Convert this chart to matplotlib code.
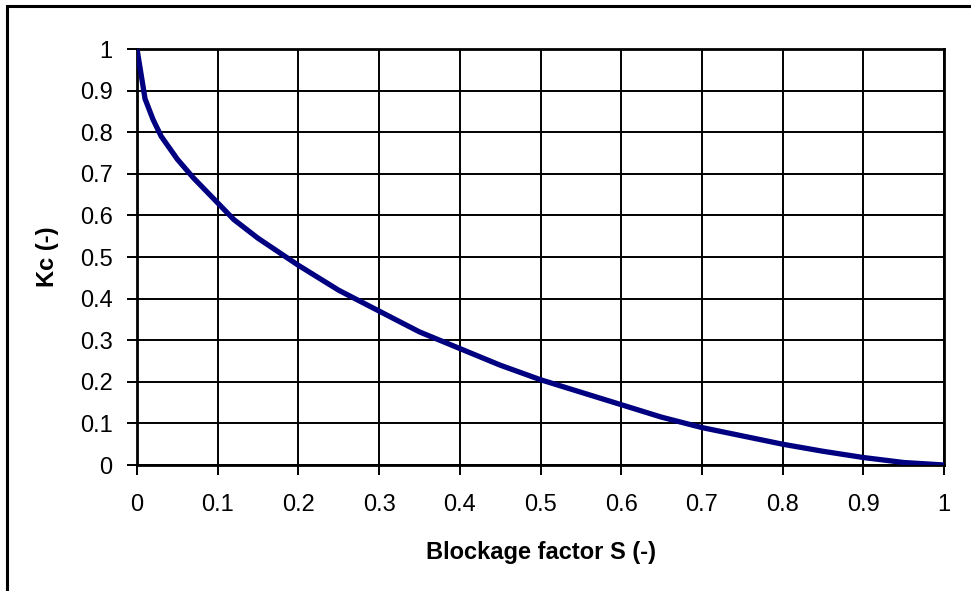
import matplotlib.pyplot as plt
from matplotlib.patches import Rectangle

plt.rcParams['font.family'] = ['Liberation Sans', 'DejaVu Sans']

# blockage factor S and correction factor Kc
s_vals = [0.0, 0.005, 0.01, 0.02, 0.03, 0.05, 0.07, 0.1, 0.12, 0.15, 0.2,
          0.25, 0.3, 0.35, 0.4, 0.45, 0.5, 0.55, 0.6, 0.65, 0.7, 0.75,
          0.8, 0.85, 0.9, 0.95, 1.0]
kc_vals = [1.0, 0.94, 0.88, 0.83, 0.79, 0.735, 0.69, 0.63, 0.59, 0.545, 0.48,
           0.42, 0.37, 0.32, 0.28, 0.24, 0.205, 0.175, 0.145, 0.115, 0.09,
           0.07, 0.05, 0.033, 0.018, 0.006, 0.0]
x_ticks = [0, 0.1, 0.2, 0.3, 0.4, 0.5, 0.6, 0.7, 0.8, 0.9, 1]
y_ticks = [0, 0.1, 0.2, 0.3, 0.4, 0.5, 0.6, 0.7, 0.8, 0.9, 1]

fig = plt.figure(figsize=(9.71, 5.91), dpi=100)
ax = fig.add_axes([137 / 971, 1 - 465 / 591, (944 - 137) / 971, (465 - 49) / 591])

# chart frame (Excel style, cut at right and bottom)
fig.patches.append(Rectangle((7 / 971, -0.1), 1.2, 1 - 6 / 591 + 0.1,
                             transform=fig.transFigure, fill=False,
                             edgecolor='black', linewidth=2.2))

ax.plot(s_vals, kc_vals, color='#000080', linewidth=3.8, zorder=3,
        solid_capstyle='butt')

ax.set_xlim(0, 1)
ax.set_ylim(0, 1)
ax.set_xticks(x_ticks)
ax.set_yticks(y_ticks)
ax.set_xticklabels([f'{t:g}' for t in x_ticks])
ax.set_yticklabels([f'{t:g}' for t in y_ticks])
ax.grid(True, color='black', linewidth=1.4)
ax.set_axisbelow(True)
for sp in ax.spines.values():
    sp.set_linewidth(2)
ax.tick_params(direction='out', length=7, width=1.4, labelsize=17, pad=10.5)
ax.tick_params(axis='x', pad=14)

ax.set_xlabel('Blockage factor S (-)', fontsize=17, fontweight='bold', labelpad=18)
ax.set_ylabel('Kc (-)', fontsize=17, fontweight='bold', labelpad=15)

fig.savefig('out.png', dpi=100)
